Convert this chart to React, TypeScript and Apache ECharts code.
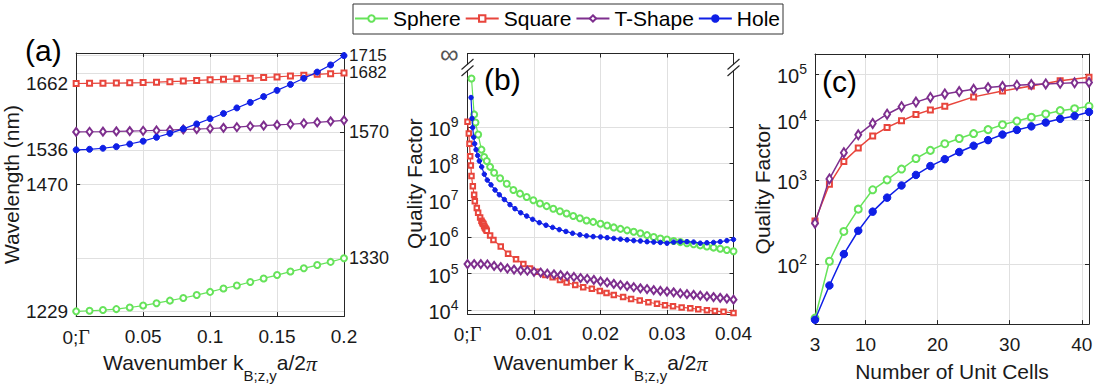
import React, { useEffect, useRef } from 'react';
import * as echarts from 'echarts';

// ---------- Panel (a): wavelength (nm) vs wavenumber ----------
const kA = [0, 0.01, 0.02, 0.03, 0.04, 0.05, 0.06, 0.07, 0.08, 0.09, 0.1, 0.11, 0.12, 0.13, 0.14, 0.15, 0.16, 0.17, 0.18, 0.19, 0.2];
const sphereA = [1229, 1230.2, 1231.5, 1233.3, 1236.4, 1240, 1244.5, 1249.4, 1254.4, 1260, 1266, 1272.4, 1278, 1284.8, 1291.6, 1298, 1304.6, 1310.8, 1317, 1323, 1330];
const squareA = [1662, 1662.4, 1662.6, 1662.8, 1663.3, 1663.9, 1664.6, 1665.6, 1666.6, 1667.8, 1669, 1670, 1670.9, 1672, 1673.4, 1674.6, 1676.3, 1677.6, 1679.4, 1680.7, 1682];
const tshapeA = [1570, 1570.3, 1570.5, 1571, 1571.6, 1572.2, 1572.8, 1573.4, 1574.7, 1575.3, 1576.5, 1577.8, 1579, 1580.9, 1582, 1583.3, 1584.6, 1586.4, 1588.3, 1590.1, 1592];
const holeA = [1536, 1537, 1539, 1542, 1547, 1552.4, 1559.8, 1567.2, 1575.9, 1585.2, 1595.1, 1605, 1615.6, 1626.1, 1637.2, 1649, 1660.2, 1671.9, 1683.7, 1697.3, 1715];
const leftTicksA = [1229, 1470, 1536, 1662];
const rightTicksA = [1330, 1570];
const rightSquareTickA = [1682];
const rightHoleTickA = [1715];

// ---------- Panel (b): log10(Quality factor) vs wavenumber ----------
const sphereB_k = [0.0006, 0.001, 0.0012, 0.0016, 0.0021, 0.0025, 0.0029, 0.0034, 0.004, 0.0049, 0.0059, 0.0069, 0.0079, 0.0089, 0.0099, 0.0109, 0.0119, 0.0129, 0.0139, 0.0149, 0.0159, 0.0169, 0.0179, 0.0189,
  0.02, 0.021, 0.022, 0.023, 0.024, 0.025, 0.026, 0.027, 0.028, 0.029, 0.03, 0.031, 0.032, 0.033, 0.034, 0.035, 0.036, 0.037, 0.038, 0.039, 0.04];
const sphereB_log10Q = [10.32, 9.34, 9.12, 8.79, 8.38, 8.18, 8.07, 7.91, 7.75, 7.6, 7.45, 7.28, 7.18, 7.09, 7.0, 6.91, 6.84, 6.77, 6.7, 6.64, 6.57, 6.51, 6.45, 6.41,
  6.36, 6.31, 6.26, 6.22, 6.18, 6.14, 6.1, 6.05, 6.0, 5.96, 5.93, 5.89, 5.86, 5.83, 5.8, 5.77, 5.74, 5.71, 5.68, 5.645, 5.61];

const squareB_k = [0, 0.0002, 0.0003, 0.0004, 0.0005, 0.0006, 0.0008, 0.001, 0.0011, 0.0014, 0.0016, 0.0019, 0.0021, 0.0022, 0.0023, 0.0024, 0.0025, 0.0026, 0.0027, 0.0028, 0.0029, 0.0034, 0.0039,
  0.005, 0.0061, 0.0073, 0.0084, 0.0094, 0.0104, 0.0117, 0.0128, 0.0139, 0.0149, 0.0162, 0.0174, 0.0187, 0.0199, 0.0209, 0.022, 0.0234, 0.0246, 0.0259, 0.0272, 0.0285, 0.0297, 0.0309, 0.0322, 0.0335, 0.0347, 0.036, 0.0372, 0.0385, 0.04];
const squareB_log10Q = [9.14, 8.82, 8.54, 8.2, 7.95, 7.66, 7.38, 7.15, 6.97, 6.79, 6.66, 6.53, 6.44, 6.4, 6.37, 6.35, 6.3, 6.26, 6.23, 6.2, 6.17, 6.04, 5.92,
  5.74, 5.54, 5.39, 5.26, 5.14, 5.05, 4.96, 4.9, 4.83, 4.76, 4.69, 4.63, 4.59, 4.53, 4.47, 4.42, 4.36, 4.31, 4.27, 4.22, 4.18, 4.14, 4.11, 4.08, 4.06, 4.03, 4.0, 3.98, 3.96, 3.93];

const tshapeB_k = [0, 0.001, 0.002, 0.003, 0.004, 0.005, 0.006, 0.007, 0.008, 0.009, 0.01, 0.011, 0.012, 0.013, 0.014, 0.015, 0.016, 0.017, 0.018, 0.019, 0.02,
  0.021, 0.022, 0.023, 0.024, 0.025, 0.026, 0.027, 0.028, 0.029, 0.03, 0.031, 0.032, 0.033, 0.034, 0.035, 0.036, 0.037, 0.038, 0.039, 0.04];
const tshapeB_log10Q = [5.26, 5.26, 5.26, 5.25, 5.21, 5.18, 5.14, 5.11, 5.09, 5.08, 5.05, 5.03, 5.0, 4.98, 4.96, 4.93, 4.91, 4.88, 4.86, 4.83, 4.79,
  4.76, 4.72, 4.69, 4.66, 4.63, 4.6, 4.58, 4.55, 4.53, 4.51, 4.49, 4.46, 4.44, 4.42, 4.4, 4.38, 4.36, 4.34, 4.32, 4.29];

const holeB_k = [0.00053, 0.00068, 0.00078, 0.00093, 0.00108, 0.00128, 0.00153, 0.00178, 0.00213, 0.00253, 0.00298, 0.00353, 0.00414, 0.00479, 0.00554, 0.00639, 0.00714, 0.008, 0.0089, 0.0098, 0.0108, 0.0118, 0.0128, 0.0138, 0.0148, 0.0158, 0.0169, 0.0179, 0.0189,
  0.02, 0.021, 0.022, 0.023, 0.024, 0.025, 0.026, 0.027, 0.028, 0.029, 0.03, 0.031, 0.032, 0.033, 0.034, 0.035, 0.036, 0.037, 0.038, 0.039, 0.04];
const holeB_log10Q = [9.8, 9.23, 8.98, 8.72, 8.54, 8.38, 8.22, 8.07, 7.91, 7.71, 7.55, 7.42, 7.28, 7.15, 7.02, 6.88, 6.77, 6.66, 6.57, 6.48, 6.39, 6.32, 6.26, 6.2, 6.15, 6.1, 6.06, 6.03, 6.01,
  6.0, 5.98, 5.96, 5.94, 5.92, 5.9, 5.89, 5.87, 5.86, 5.85, 5.83, 5.86, 5.87, 5.87, 5.86, 5.83, 5.84, 5.85, 5.87, 5.9, 5.93];
const yTicksB = [4, 5, 6, 7, 8, 9, 11]; // 11 = the "infinity" end of the broken axis

// ---------- Panel (c): Quality factor vs number of unit cells ----------
const cellsC = [3, 5, 7, 9, 11, 13, 15, 17, 19, 21, 23, 25, 27, 29, 31, 33, 35, 37, 39, 41];
const sphereC = [35, 107, 220, 405, 728, 1005, 1453, 2123, 2884, 3733, 4603, 5636, 6653, 8204, 9616, 11430, 13240, 15420, 16900, 18920];
const holeC = [34, 64, 126, 224, 377, 570, 836, 1186, 1614, 2070, 2704, 3451, 4305, 5408, 6561, 7638, 9036, 10620, 12110, 14520];
const tshapeC = [274, 1038, 2642, 5346, 8670, 13090, 18540, 23120, 28970, 34590, 38990, 43850, 47750, 50930, 54000, 56000, 57800, 59600, 61500, 62800];
const squareCells = [3, 5, 7, 9, 11, 13, 15, 17, 19, 21, 25, 29, 33, 37, 41];
const squareC = [291, 867, 1910, 3155, 5117, 7311, 9750, 12880, 15960, 18920, 29850, 40270, 51880, 68550, 83180];
const xTicksC = [3, 10, 20, 30, 40];
const yDecadesC = [2, 3, 4, 5];

const FONT = "'Liberation Sans', Arial, Helvetica, sans-serif";
const SERIF = "'Liberation Serif', 'DejaVu Serif', serif";
const AX = '#262626';
const GRIDC = '#e0e0e0';
const TXT = '#1a1a1a';

const C_SPHERE = '#66e35a';
const C_SQUARE = '#e8453c';
const C_TSHAPE = '#7e2f8e';
const C_HOLE = '#0f1fe6';

const supRich = {
  b: { fontSize: 20, lineHeight: 24, verticalAlign: 'bottom', color: TXT, fontFamily: FONT },
  s: { fontSize: 14, lineHeight: 14, verticalAlign: 'top', color: TXT, fontFamily: FONT },
  inf: { fontSize: 26, color: '#555', fontFamily: FONT, lineHeight: 24 },
};
const gammaRich = {
  n: { fontSize: 19, color: TXT, fontFamily: FONT },
  g: { fontSize: 20, color: TXT, fontFamily: SERIF },
};
const nameRich = {
  m: { fontSize: 21, lineHeight: 24, verticalAlign: 'top', color: TXT, fontFamily: FONT },
  sub: { fontSize: 15, lineHeight: 16, padding: [16, 0, 0, 0], verticalAlign: 'top', color: TXT, fontFamily: FONT },
  pi: { fontSize: 22, lineHeight: 24, verticalAlign: 'top', color: TXT, fontFamily: SERIF, fontStyle: 'italic' },
};
const kName = '{m|Wavenumber k}{sub|B;z,y}{m|a/2}{pi|π}';

const lineStyle = { color: AX, width: 1 };
const plain = (v: number) => String(v);

function frameX(gridIndex: number, min: number, max: number, extra: any = {}) {
  return {
    gridIndex, type: 'value', min, max, position: 'top',
    axisLine: { show: true, onZero: false, lineStyle },
    axisTick: { show: true, inside: true, length: 4, lineStyle, ...(extra.tick || {}) },
    axisLabel: { show: false },
    splitLine: { show: false },
    ...(extra.axis || {}),
  };
}
function frameY(gridIndex: number, min: number, max: number, extra: any = {}) {
  return {
    gridIndex, type: 'value', min, max, position: 'right',
    axisLine: { show: true, onZero: false, lineStyle },
    axisTick: { show: true, inside: true, length: 4, lineStyle, ...(extra.tick || {}) },
    axisLabel: { show: false },
    splitLine: { show: false },
  };
}

function rightLabelAxisA(ticks: number[], padding: number[], fontSize: number) {
  return {
    gridIndex: 0, type: 'value', min: 1220, max: 1720, position: 'right',
    axisLine: { show: true, onZero: false, lineStyle },
    axisTick: { show: true, inside: true, length: 4, lineStyle, customValues: ticks },
    axisLabel: {
      show: true, fontSize, lineHeight: fontSize, color: TXT, fontFamily: FONT, margin: 5, padding,
      customValues: ticks, formatter: plain, hideOverlap: false, showMaxLabel: true, showMinLabel: true,
    },
    splitLine: { show: true, lineStyle: { color: GRIDC, width: 1 } },
  };
}

function series(name: string, color: string, symbol: string, size: any, data: any[], idx: number, width: number, z: number) {
  return {
    type: 'line', name, data, xAxisIndex: idx, yAxisIndex: idx,
    symbol, symbolSize: size, showSymbol: true, showAllSymbol: true, silent: true,
    lineStyle: { color, width },
    itemStyle: { color, borderColor: color, borderWidth: 1 },
    emphasis: { disabled: true }, z,
  };
}

const zip = (xs: number[], ys: number[], f: (v: number) => number = (v) => v) => xs.map((x, i) => [x, f(ys[i])]);
const loglog = (q: number) => Math.log10(Math.log10(q));

function buildOption() {
  const gammaFmt = (v: number) => (Math.abs(v) < 1e-12 ? '{n|0;}{g|Γ}' : String(+v.toFixed(4)));

  const xAxis = [
    {
      gridIndex: 0, type: 'value', min: 0, max: 0.2, interval: 0.05, position: 'bottom',
      axisLine: { show: true, onZero: false, lineStyle },
      axisTick: { show: true, inside: true, length: 4, lineStyle },
      axisLabel: { formatter: gammaFmt, fontSize: 19, color: TXT, fontFamily: FONT, margin: 11, rich: gammaRich },
      splitLine: { show: true, lineStyle: { color: GRIDC, width: 1 } },
      name: kName, nameLocation: 'middle', nameGap: 34, nameTextStyle: { rich: nameRich, fontSize: 21 },
    },
    frameX(0, 0, 0.2, { axis: { interval: 0.05 } }),
    {
      gridIndex: 1, type: 'value', min: 0, max: 0.04, interval: 0.01, position: 'bottom',
      axisLine: { show: true, onZero: false, lineStyle },
      axisTick: { show: true, inside: true, length: 4, lineStyle },
      axisLabel: { formatter: gammaFmt, fontSize: 19, color: TXT, fontFamily: FONT, margin: 10, rich: gammaRich },
      splitLine: { show: true, lineStyle: { color: GRIDC, width: 1 } },
      name: kName, nameLocation: 'middle', nameGap: 38, nameTextStyle: { rich: nameRich, fontSize: 21 },
    },
    frameX(1, 0, 0.04, { axis: { interval: 0.01 } }),
    {
      gridIndex: 2, type: 'value', min: 3, max: 41, position: 'bottom',
      axisLine: { show: true, onZero: false, lineStyle },
      axisTick: { show: true, inside: true, length: 4, lineStyle, customValues: xTicksC },
      axisLabel: { fontSize: 19, color: TXT, fontFamily: FONT, margin: 11, customValues: xTicksC, formatter: plain },
      splitLine: { show: true, lineStyle: { color: GRIDC, width: 1 } },
      name: 'Number of Unit Cells', nameLocation: 'middle', nameGap: 34,
      nameTextStyle: { fontSize: 21, color: TXT, fontFamily: FONT, lineHeight: 24 },
    },
    frameX(2, 3, 41, { tick: { customValues: xTicksC } }),
  ];

  const yLogLogMin = Math.log10(1.5);
  const yLogLogMax = Math.log10(5.5);
  const yTicksCvals = yDecadesC.map((d) => Math.log10(d));

  const yAxis = [
    {
      gridIndex: 0, type: 'value', min: 1220, max: 1720, position: 'left',
      axisLine: { show: true, onZero: false, lineStyle },
      axisTick: { show: true, inside: true, length: 4, lineStyle, customValues: leftTicksA },
      axisLabel: { fontSize: 19, color: TXT, fontFamily: FONT, margin: 8, customValues: leftTicksA, formatter: plain, hideOverlap: false },
      splitLine: { show: true, lineStyle: { color: GRIDC, width: 1 } },
      name: 'Wavelength (nm)', nameLocation: 'middle', nameGap: 54,
      nameTextStyle: { fontSize: 21, color: TXT, fontFamily: FONT },
    },
    rightLabelAxisA(rightTicksA, [0, 0, 0, 0], 18),
    {
      gridIndex: 1, type: 'value', min: 3.9, max: 11, position: 'left',
      axisLine: { show: true, onZero: false, lineStyle },
      axisTick: { show: true, inside: true, length: 4, lineStyle, customValues: yTicksB },
      axisLabel: {
        customValues: yTicksB, margin: 9, rich: supRich, fontSize: 20, color: TXT, fontFamily: FONT, hideOverlap: false,
        formatter: (v: number) => (Math.abs(v - 11) < 1e-6 ? '{inf|∞}' : `{b|10}{s|${Math.round(v)}}`),
      },
      splitLine: { show: true, lineStyle: { color: GRIDC, width: 1 } },
      name: 'Quality Factor', nameLocation: 'middle', nameGap: 42,
      nameTextStyle: { fontSize: 21, color: TXT, fontFamily: FONT },
    },
    frameY(1, 3.9, 11, { tick: { customValues: yTicksB } }),
    {
      gridIndex: 2, type: 'value', min: yLogLogMin, max: yLogLogMax, position: 'left',
      axisLine: { show: true, onZero: false, lineStyle },
      axisTick: { show: true, inside: true, length: 4, lineStyle, customValues: yTicksCvals },
      axisLabel: {
        customValues: yTicksCvals, margin: 8, rich: supRich, fontSize: 20, color: TXT, fontFamily: FONT, hideOverlap: false,
        formatter: (v: number) => `{b|10}{s|${Math.round(Math.pow(10, v))}}`,
      },
      splitLine: { show: true, lineStyle: { color: GRIDC, width: 1 } },
      name: 'Quality Factor', nameLocation: 'middle', nameGap: 42,
      nameTextStyle: { fontSize: 21, color: TXT, fontFamily: FONT },
    },
    frameY(2, yLogLogMin, yLogLogMax, { tick: { customValues: yTicksCvals } }),
    // (a) extra right axes carrying the two close top labels, nudged apart so they do not collide
    rightLabelAxisA(rightSquareTickA, [6, 0, 0, 0], 17),
    rightLabelAxisA(rightHoleTickA, [0, 0, 6, 0], 17),
  ];

  const S = (name: string, color: string, symbol: string, size: any, data: any[], panel: number, width: number, z: number) =>
    series(name, color, symbol, size, data, panel * 2, width, z);

  const seriesList = [
    S('Sphere', C_SPHERE, 'emptyCircle', 6, zip(kA, sphereA), 0, 1.2, 3),
    S('Square', C_SQUARE, 'emptyRect', 5, zip(kA, squareA), 0, 1.2, 3),
    S('T-Shape', C_TSHAPE, 'emptyDiamond', [6, 8], zip(kA, tshapeA), 0, 1.2, 3),
    S('Hole', C_HOLE, 'circle', 6, zip(kA, holeA), 0, 1.2, 4),
    S('Sphere', C_SPHERE, 'emptyCircle', 6, zip(sphereB_k, sphereB_log10Q), 1, 1.2, 3),
    S('Square', C_SQUARE, 'emptyRect', 4.5, zip(squareB_k, squareB_log10Q), 1, 1.2, 3),
    S('T-Shape', C_TSHAPE, 'emptyDiamond', [6, 8], zip(tshapeB_k, tshapeB_log10Q), 1, 1.2, 3),
    S('Hole', C_HOLE, 'circle', 4.5, zip(holeB_k, holeB_log10Q), 1, 1.2, 4),
    S('Sphere', C_SPHERE, 'emptyCircle', 7, zip(cellsC, sphereC, loglog), 2, 1.5, 3),
    S('Square', C_SQUARE, 'emptyRect', 5, zip(squareCells, squareC, loglog), 2, 1.5, 3),
    S('T-Shape', C_TSHAPE, 'emptyDiamond', [6, 9], zip(cellsC, tshapeC, loglog), 2, 1.5, 4),
    S('Hole', C_HOLE, 'circle', 7.5, zip(cellsC, holeC, loglog), 2, 1.5, 4),
  ];

  const brk = (x0: number) => [
    { type: 'rect', shape: { x: x0 - 2.5, y: 65, width: 5, height: 5 }, style: { fill: '#fff' }, z: 100 },
    { type: 'line', shape: { x1: x0 - 6, y1: 69.5, x2: x0 + 6, y2: 59 }, style: { stroke: AX, lineWidth: 1.2 }, z: 101 },
    { type: 'line', shape: { x1: x0 - 6, y1: 76, x2: x0 + 6, y2: 65.5 }, style: { stroke: AX, lineWidth: 1.2 }, z: 101 },
  ];

  const panelLabel = (t: string, x: number, y: number) => ({
    type: 'text', z: 102,
    style: { text: t, x, y, fill: '#000', font: `30px ${FONT}`, textVerticalAlign: 'middle' },
  });

  return {
    animation: false,
    backgroundColor: '#fff',
    textStyle: { fontFamily: FONT },
    grid: [
      { left: 75, top: 53, width: 269, height: 269 },
      { left: 467.5, top: 53.5, width: 266, height: 263 },
      { left: 815, top: 54, width: 274, height: 273 },
    ],
    legend: {
      data: ['Sphere', 'Square', 'T-Shape', 'Hole'],
      left: 353, top: 4,
      orient: 'horizontal',
      itemWidth: 33, itemHeight: 8, itemGap: 4,
      padding: [4, 3, 5, 1],
      borderColor: '#333', borderWidth: 1, backgroundColor: '#fff',
      textStyle: { fontSize: 21, color: '#000', fontFamily: FONT },
      selectedMode: false,
    },
    xAxis,
    yAxis,
    series: seriesList,
    graphic: [
      ...brk(467.5),
      ...brk(733.5),
      panelLabel('(a)', 25, 50),
      panelLabel('(b)', 484, 79),
      panelLabel('(c)', 822, 81),
    ],
  };
}

export default function App() {
  const ref = useRef<HTMLDivElement>(null);
  useEffect(() => {
    document.body.style.margin = '0';
    const chart = echarts.init(ref.current!, null, { renderer: 'svg' });
    chart.setOption(buildOption() as any);
    return () => chart.dispose();
  }, []);
  return <div ref={ref} style={{ width: 1096, height: 388, background: '#fff' }} />;
}
